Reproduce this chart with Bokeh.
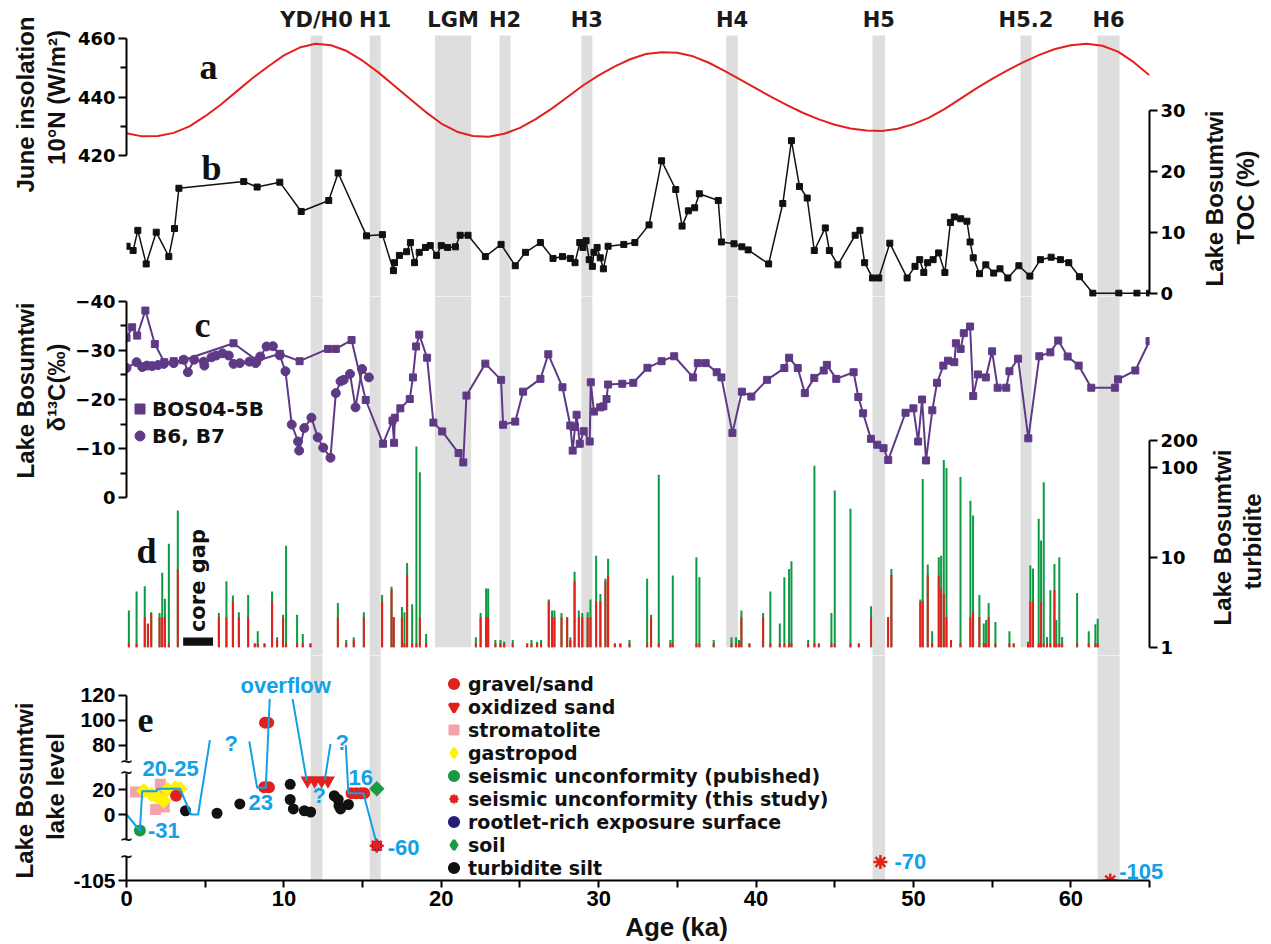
import numpy as np
from bokeh.plotting import figure
from bokeh.layouts import column
from bokeh.models import Plot, Range1d, LinearAxis, LogScale, FixedTicker, Legend, LegendItem
from bokeh.core.properties import value
from bokeh.embed import file_html
from bokeh.resources import INLINE

# ---------------------------------------------------------------- data
EVENT_NAMES = ["YD/H0", "H1", "LGM", "H2", "H3", "H4", "H5", "H5.2", "H6"]
EVENT_START = [11.7, 15.45, 19.6, 23.7, 28.9, 38.1, 47.4, 56.8, 61.7]
EVENT_END = [12.45, 16.15, 21.9, 24.4, 29.6, 38.85, 48.2, 57.5, 63.1]
EVENT_FULL = [True, True, False, False, False, False, True, False, True]

# (a) June insolation at 10N, W/m2
INSOL_AGE = list(range(0, 66))
INSOL = [427.7, 426.6, 426.7, 427.8, 430.0, 433.5, 437.5, 442.0, 446.5, 450.5,
         454.3, 457.0, 458.3, 457.8, 455.8, 452.5, 448.5, 444.0, 439.5, 435.0,
         431.0, 428.2, 426.7, 426.5, 427.5, 429.5, 432.5, 436.0, 440.0, 444.0,
         447.5, 450.5, 453.0, 454.8, 455.4, 455.2, 454.0, 451.8, 449.0, 446.0,
         443.0, 440.0, 437.2, 434.6, 432.4, 430.6, 429.3, 428.6, 428.4, 429.2,
         430.8, 433.0, 436.0, 439.5, 443.0, 446.3, 449.3, 452.0, 454.5, 456.5,
         457.8, 458.3, 457.6, 455.6, 452.0, 447.5]

# (b) Lake Bosumtwi TOC (%)
TOC_AGE = [0.04, 0.42, 0.72, 1.25, 1.89, 2.69, 3.05, 3.33, 7.45, 8.3, 9.74, 11.1, 12.85,
           13.45, 15.25, 16.26, 16.96, 17.03, 17.34, 17.8, 18.04, 18.3, 18.6, 19.0, 19.3,
           19.7, 20.0, 20.4, 20.9, 21.2, 21.7, 22.8, 23.8, 24.7, 25.35, 26.3, 27.1, 27.7,
           28.2, 28.5, 28.8, 29.0, 29.2, 29.4, 29.6, 29.7, 29.9, 30.1, 30.3, 30.6, 31.6,
           32.3, 33.2, 34.0, 34.9, 35.3, 35.7, 36.1, 36.4, 37.6, 37.8, 38.6, 39.1, 39.5,
           40.8, 41.7, 42.25, 42.76, 43.25, 43.7, 44.4, 44.66, 45.2, 46.3, 46.6, 46.9,
           47.4, 47.8, 48.5, 49.6, 50.1, 50.4, 50.66, 50.9, 51.25, 51.6, 52.0, 52.35,
           52.6, 53.0, 53.4, 53.6, 53.8, 54.2, 54.6, 55.1, 55.5, 56.0, 56.7, 57.4, 58.07,
           58.75, 59.34, 59.87, 60.55, 61.4, 63.05, 64.2, 65.0]
TOC = [7.7, 7.0, 10.3, 4.8, 10.0, 6.0, 10.6, 17.2, 18.3, 17.4, 18.2, 13.4, 15.2,
       19.7, 9.4, 9.6, 3.7, 5.0, 6.2, 6.8, 8.3, 5.0, 6.7, 7.5, 7.8,
       6.2, 7.8, 7.5, 7.6, 9.5, 9.5, 6.0, 8.0, 4.5, 6.7, 8.3, 5.7, 6.0,
       5.7, 5.0, 8.3, 7.5, 8.6, 5.5, 4.4, 6.7, 7.5, 5.8, 4.0, 7.7, 8.0,
       8.3, 11.2, 21.7, 17.0, 11.0, 13.5, 14.0, 16.3, 15.2, 8.4, 8.1, 7.6, 7.1,
       4.8, 14.7, 25.0, 17.5, 15.6, 7.0, 10.7, 7.0, 4.65, 9.5, 10.3, 5.0,
       2.5, 2.5, 8.2, 2.5, 4.4, 5.5, 3.4, 5.0, 5.5, 6.6, 3.4, 11.6,
       12.5, 12.2, 11.8, 8.4, 5.8, 3.2, 4.65, 3.3, 4.0, 2.5, 4.5, 2.8, 5.5,
       5.9, 5.5, 5.0, 2.7, 0.0, 0.0, 0.0, 0.0]

# (c) d13C, core BOS04-5B
BOS_AGE = [0.0, 0.36, 0.68, 1.2, 1.8, 2.4, 3.0, 3.6, 6.8, 8.3, 9.74, 11.0, 12.8, 13.3, 14.3,
           15.2, 16.3, 16.9, 17.0, 17.05, 17.4, 18.0, 18.2, 18.4, 18.6, 19.1, 19.5, 20.06,
           21.1, 21.4, 21.6, 22.8, 23.8, 23.93, 24.7, 25.2, 26.3, 26.8, 27.7, 28.2, 28.35,
           28.5, 28.6, 28.8, 29.05, 29.43, 29.5, 29.7, 30.1, 30.3, 30.5, 30.6, 31.5, 32.2,
           33.1, 34.0, 34.8, 36.0, 36.3, 36.8, 37.5, 37.8, 38.5, 39.1, 39.7, 40.7, 41.8,
           42.1, 42.65, 43.1, 43.7, 44.3, 44.5, 45.1, 46.2, 46.5, 46.8, 47.3, 47.7, 48.1,
           48.4, 49.5, 50.0, 50.3, 50.55, 50.8, 51.2, 51.5, 51.9, 52.2, 52.6, 52.7, 53.0,
           53.2, 53.6, 53.8, 54.1, 54.6, 55.0, 55.35, 55.9, 56.1, 56.65, 57.3, 58.0, 58.7,
           59.2, 59.8, 60.5, 61.3, 62.8, 63.0, 64.1, 65.0]
BOS_D13C = [-32.55, -34.7, -33.0, -38.1, -31.3, -27.6, -27.8, -28.0, -31.45, -27.9, -29.3,
            -27.8, -30.3, -30.3, -32.1, -19.9, -11.0, -15.7, -11.2, -16.3, -18.2, -20.1,
            -24.5, -30.8, -33.2, -28.5, -15.3, -13.5, -9.1, -7.2, -20.8, -27.3, -24.0,
            -14.85, -15.5, -21.6, -24.2, -29.2, -22.5, -14.7, -9.6, -14.4, -16.9, -11.0,
            -13.55, -11.45, -23.5, -17.55, -18.4, -18.6, -20.1, -23.05, -23.2, -23.4,
            -26.45, -27.8, -28.8, -24.5, -27.4, -27.4, -25.55, -24.5, -13.2, -21.6, -20.6,
            -24.0, -26.4, -28.5, -26.4, -21.3, -24.4, -25.9, -27.05, -24.2, -25.55, -20.5,
            -17.2, -12.0, -10.8, -10.1, -7.7, -17.3, -18.2, -11.45, -20.0, -7.6, -17.8,
            -23.4, -26.9, -27.9, -27.6, -31.45, -30.3, -33.5, -34.85, -20.7, -25.1, -24.5,
            -29.8, -22.4, -22.4, -25.75, -28.3, -12.1, -28.8, -29.6, -32.0, -28.75, -26.9,
            -22.4, -22.4, -24.1, -25.9, -31.9]

# (c) d13C, cores B6 and B7
B6_AGE = [0.0, 0.64, 1.0, 1.3, 1.63, 2.0, 2.37, 3.0, 3.64, 3.9, 4.3, 4.9, 4.95, 5.4, 5.7,
          6.1, 6.5, 6.8, 7.2, 7.8, 8.2, 8.5, 8.9, 9.3, 9.74, 10.1, 10.5, 10.9, 10.97, 11.3,
          11.75, 12.15, 12.5, 12.96, 13.3, 13.6, 13.8, 14.2, 14.55, 14.97, 15.4]
B6_D13C = [-26.4, -27.6, -26.6, -26.9, -26.8, -27.0, -27.25, -27.4, -28.1, -25.55, -28.1,
           -27.7, -26.9, -28.6, -28.95, -29.4, -28.95, -27.25, -27.4, -27.7, -27.4, -28.75,
           -30.8, -30.85, -29.0, -25.75, -14.9, -11.45, -9.6, -14.2, -16.3, -12.3, -10.2,
           -8.15, -21.3, -23.7, -24.0, -25.2, -18.4, -26.2, -24.5]

# (d) turbidite record: total (green) and red component
TURB_AGE = [0.15, 0.64, 1.16, 1.36, 1.57, 2.10, 2.27, 2.44, 2.69, 3.26, 5.87, 6.35, 6.76,
            7.14, 7.73, 8.15, 8.34, 8.77, 9.25, 9.57, 9.95, 10.14, 10.84, 11.2, 11.69,
            13.43, 13.96, 14.44, 15.08, 16.24, 16.84, 16.98, 17.5, 17.66, 17.83, 18.15,
            18.42, 18.64, 19.04, 22.2, 22.5, 22.85, 22.98, 23.44, 23.76, 24.0, 24.54,
            25.46, 25.73, 26.09, 26.34, 26.83, 27.04, 27.19, 27.64, 28.0, 28.2, 28.47,
            28.74, 28.96, 29.3, 29.48, 29.84, 30.11, 30.43, 30.6, 31.03, 31.38, 31.96,
            33.08, 33.33, 33.82, 34.56, 34.71, 36.21, 36.4, 37.31, 38.44, 38.73, 38.92,
            39.07, 39.58, 40.45, 40.91, 41.51, 41.8, 42.1, 42.25, 43.31, 43.71, 43.99,
            44.79, 45.0, 46.0, 46.53, 47.31, 48.39, 48.6, 50.44, 50.59, 50.91, 51.19,
            51.61, 51.76, 51.93, 52.1, 52.39, 52.99, 53.62, 53.79, 54.19, 54.47, 54.62,
            54.78, 55.21, 56.1, 56.37, 57.28, 57.43, 57.6, 57.96, 58.11, 58.28, 58.49,
            58.7, 58.96, 59.08, 59.27, 59.45, 60.4, 61.14, 61.56, 61.71]
TURB_TOTAL = [2.56, 4.15, 4.76, 1.83, 2.45, 2.4, 6.7, 3.45, 14.1, 33.0, 2.4, 5.4, 3.76,
              2.45, 3.8, 1.1, 1.5, 1.1, 4.15, 1.29, 2.3, 13.4, 2.3, 1.4, 1.1,
              3.1, 1.2, 1.29, 2.45, 3.8, 4.7, 2.15, 2.8, 2.45, 8.6, 3.0,
              170.0, 88.0, 1.4, 1.29, 2.4, 4.5, 4.5, 1.2, 1.2, 1.15, 1.2,
              1.1, 1.2, 1.15, 1.2, 3.4, 2.56, 2.56, 2.4, 2.15, 1.29, 6.9,
              2.56, 2.4, 2.45, 3.4, 10.4, 3.9, 5.75, 9.6, 1.1, 1.1, 1.2,
              5.75, 2.3, 82.6, 1.2, 6.25, 10.0, 6.0, 1.2, 1.29, 1.29, 1.2,
              2.56, 1.1, 2.4, 4.15, 1.83, 6.0, 7.4, 9.0, 1.2, 104.0, 1.1,
              2.4, 55.0, 34.5, 1.1, 2.86, 2.15, 7.4, 3.4, 74.0, 8.3, 1.5,
              10.0, 10.4, 120.0, 98.0, 1.2, 78.0, 42.5, 29.0, 3.8, 1.83, 2.0,
              3.1, 1.9, 1.5, 1.1, 1.15, 8.1, 7.5, 26.8, 15.3, 68.0, 1.3,
              4.3, 8.4, 2.0, 10.0, 1.3, 4.0, 1.5, 1.8, 2.07]
TURB_RED = [1.1, 1.1, 2.15, 1.8, 2.4, 2.15, 2.15, 2.15, 1.1, 7.4, 2.15, 2.15, 3.25,
            2.15, 2.15, 1.1, 1.1, 1.1, 3.25, 1.2, 2.15, 1.1, 1.1, 1.1, 1.1,
            2.15, 1.1, 1.2, 2.15, 3.25, 4.4, 2.15, 2.15, 1.1, 6.4, 1.1,
            1.1, 2.15, 1.1, 1.1, 2.15, 2.15, 2.15, 1.1, 1.1, 1.1, 1.1,
            1.1, 1.1, 1.1, 1.1, 3.25, 2.15, 2.15, 2.15, 2.15, 1.2, 5.4,
            2.15, 2.15, 2.15, 2.15, 3.25, 3.25, 5.4, 6.25, 1.1, 1.1, 1.1,
            1.1, 2.15, 1.1, 1.1, 1.1, 1.1, 1.1, 1.1, 1.1, 1.1, 1.1,
            2.15, 1.1, 2.15, 1.1, 1.1, 1.1, 1.1, 1.1, 1.1, 1.1, 1.1,
            1.1, 1.1, 1.1, 1.1, 2.15, 2.15, 6.35, 3.25, 3.25, 6.35, 1.1,
            6.25, 4.5, 3.9, 2.15, 1.2, 1.1, 2.15, 2.5, 2.15, 1.1, 1.1,
            2.15, 1.1, 1.1, 1.1, 1.1, 3.2, 3.2, 1.1, 3.2, 1.1, 1.1,
            1.1, 4.3, 1.1, 1.1, 1.1, 1.1, 1.1, 1.1, 1.1]
TURB_BASE = 1.0
CORE_GAP = (3.6, 5.5)

# (e) lake-level indicators (age in ka, level in m)
GRAVEL_AGE = [3.15, 8.75, 9.05, 8.8, 9.0, 14.3, 14.6, 14.9, 15.1]
GRAVEL_LEVEL = [15, 23, 23, 98, 98, 17, 17, 17, 17]
OXSAND_AGE = [11.5, 11.95, 12.4, 12.8]
OXSAND_LEVEL = [32, 32, 32, 32]
STROM_AGE = [0.57, 2.15, 2.2, 1.85, 2.4]
STROM_LEVEL = [18, 27, 20, 4, 6]
GASTRO_AGE = [1.1, 1.6, 1.95, 2.35, 2.6, 3.1, 3.4]
GASTRO_LEVEL = [19, 16, 14, 11, 20, 22, 21]
SEIS_PUB_AGE = [0.85]
SEIS_PUB_LEVEL = [-31]
SEIS_NEW_AGE = [15.9, 47.9, 62.5]
SEIS_NEW_LEVEL = [-60, -70, -105]
ROOTLET_AGE = [15.9]
ROOTLET_LEVEL = [-60]
SOIL_AGE = [15.9]
SOIL_LEVEL = [21]
SILT_AGE = [3.75, 5.75, 7.2, 10.4, 10.4, 10.6, 11.3, 11.7, 13.2, 13.45, 13.5, 13.6, 14.1]
SILT_LEVEL = [3, 1, 8.5, 27, 12, 4.5, 3, 2, 15, 12, 7, 4.5, 8]

# reconstructed lake-level path segments
LAKE_PATH_AGE = [[0.0, 0.85, 1.0, 1.9, 2.0, 3.4, 4.1, 4.55, 5.3],
                 [7.8, 8.3, 8.85, 9.1],
                 [10.55, 11.45],
                 [12.6, 12.96],
                 [13.93, 14.1, 15.05, 15.93]]
LAKE_PATH_LEVEL = [[0, -31, 18.6, 18.6, 21, 21, 0, 0, 84],
                   [83, 22.5, 22.5, 117],
                   [117, 32],
                   [33, 81],
                   [80, 17, 17, -60]]

NOTE_TEXT = ["20-25", "23", "16", "overflow", "?", "?", "?"]
NOTE_AGE = [1.02, 7.75, 14.1, 7.24, 6.23, 11.82, 13.28]
NOTE_LEVEL = [48, 9.8, 36.6, 127.7, 81.3, 15.2, 82.1]

# broken lake-level axis: level (m) -> drawing position
LEVEL_KNOTS = [-105, -70, -60, -31, 0, 20, 80, 160]
POS_KNOTS = [-52.8, -38.0, -25.0, -12.8, 0.0, 20.0, 55.5, 135.5]
LEVEL_TICKS = [120, 100, 80, 20, 0, -105]


def lake_pos(levels):
    return [round(float(v), 3) for v in np.interp(levels, LEVEL_KNOTS, POS_KNOTS)]


# ---------------------------------------------------------------- styling
SANS = "Liberation Sans"
WIDE = "DejaVu Sans"
SERIF = "Liberation Serif"
RED = "#E3211C"
PURPLE = "#5E3A86"
GREEN = "#0E9A43"
BAND = "#DEDEDE"
BLUE = "#12A0E6"
PINK = "#F2A4AC"
YELLOW = "#FFF200"
LEAF = "#1A9A45"
NAVY = "#211D78"
INK = "#111111"
W, H = 1271, 944
FRAME_LEFT, FRAME_RIGHT = 126, 122
OVERLAP = 20
UP = np.pi / 2
TILT = np.pi / 4
HAS_FRAME_ALIGN = "frame_align" in Plot.properties()
x_range = Range1d(0, 65)


def panel(frame_h, y_range, top=0, bottom=OVERLAP, xr=None, right=FRAME_RIGHT, shift=0):
    p = figure(width=W, height=top + frame_h + bottom, x_range=xr or x_range,
               y_range=y_range, x_axis_location=None, y_axis_location=None, tools="",
               toolbar_location=None, output_backend="svg",
               min_border_left=FRAME_LEFT, min_border_right=right,
               min_border_top=top, min_border_bottom=bottom,
               margin=(-shift, 0, 0, 0))
    p.outline_line_color = None
    p.grid.grid_line_color = None
    p.background_fill_color = None
    p.border_fill_color = None
    if HAS_FRAME_ALIGN:
        p.frame_align = False
    return p


def style_axis(ax, font=WIDE, size="18px", tick=8, minor=6):
    ax.axis_line_width = 2
    ax.axis_line_color = "black"
    ax.major_tick_line_width = 2
    ax.minor_tick_line_width = 2
    ax.major_tick_line_color = "black"
    ax.minor_tick_line_color = "black"
    ax.major_tick_in = 0
    ax.major_tick_out = tick
    ax.minor_tick_in = 0
    ax.minor_tick_out = minor
    ax.major_label_text_font = font
    ax.major_label_text_font_size = size
    ax.major_label_text_font_style = "bold"
    ax.major_label_text_color = "black"
    ax.major_label_standoff = 3


ev_center = [(a + b) / 2 for a, b in zip(EVENT_START, EVENT_END)]
full_start = [s for s, f in zip(EVENT_START, EVENT_FULL) if f]
full_end = [e for e, f in zip(EVENT_END, EVENT_FULL) if f]

# ---------------------------------------------------------------- panel a + b
f1 = panel(296, Range1d(371.8, 473.1))
f1.extra_y_ranges = {"toc": Range1d(-0.54, 47.98)}
f1.quad(left=EVENT_START, right=EVENT_END, bottom=371.8, top=461.1,
        fill_color=BAND, line_color=None)
f1.text(x=ev_center, y=466.3, text=EVENT_NAMES, text_align="center",
        text_baseline="middle", text_font=value(WIDE), text_font_style="bold",
        text_font_size="21px", text_color="#1a1a1a")
f1.line(INSOL_AGE, INSOL, line_color=RED, line_width=2)
f1.line(TOC_AGE, TOC, y_range_name="toc", line_color=INK, line_width=1.5)
f1.scatter(TOC_AGE, TOC, y_range_name="toc", marker="square", size=6,
           fill_color=INK, line_color=INK)

ax_ins = LinearAxis(bounds=(420, 460),
                    ticker=FixedTicker(ticks=[420, 440, 460], minor_ticks=[430, 450]))
style_axis(ax_ins)
f1.add_layout(ax_ins, "left")
ax_toc = LinearAxis(y_range_name="toc", bounds=(0, 30),
                    ticker=FixedTicker(ticks=[0, 10, 20, 30], minor_ticks=[]))
style_axis(ax_toc)
f1.add_layout(ax_toc, "right")

# ---------------------------------------------------------------- panel c + d
f2 = panel(359, Range1d(start=32.09, end=-40.96), top=OVERLAP, shift=2 * OVERLAP)
f2.extra_y_ranges = {"turb": Range1d(0.809, 7880)}
f2.extra_y_scales = {"turb": LogScale()}
band_bottom = [0.809 if f else TURB_BASE for f in EVENT_FULL]
f2.quad(left=EVENT_START, right=EVENT_END, bottom=band_bottom, top=7880,
        y_range_name="turb", fill_color=BAND, line_color=None)

n_turb = len(TURB_AGE)
f2.segment(x0=TURB_AGE, y0=[TURB_BASE] * n_turb, x1=TURB_AGE, y1=TURB_TOTAL,
           y_range_name="turb", line_color=GREEN, line_width=2)
f2.segment(x0=TURB_AGE, y0=[TURB_BASE] * n_turb, x1=TURB_AGE, y1=TURB_RED,
           y_range_name="turb", line_color=RED, line_width=2)
f2.quad(left=[CORE_GAP[0]], right=[CORE_GAP[1]], bottom=[1.04], top=[1.28],
        y_range_name="turb", fill_color=INK, line_color=None)
f2.text(x=[sum(CORE_GAP) / 2], y=[5.5], text=["core gap"], y_range_name="turb",
        angle=UP, text_align="center", text_baseline="middle",
        text_font=value(WIDE), text_font_style="bold", text_font_size="21px",
        text_color=INK)

f2.line(BOS_AGE, BOS_D13C, line_color=PURPLE, line_width=2)
r_bos = f2.scatter(BOS_AGE, BOS_D13C, marker="square", size=7,
                   fill_color=PURPLE, line_color=PURPLE)
f2.line(B6_AGE, B6_D13C, line_color=PURPLE, line_width=2)
r_b6 = f2.scatter(B6_AGE, B6_D13C, marker="circle", size=9,
                  fill_color=PURPLE, line_color=PURPLE)

ax_c = LinearAxis(bounds=(-40, 0),
                  ticker=FixedTicker(ticks=[-40, -30, -20, -10, 0],
                                     minor_ticks=[-35, -25, -15, -5]))
style_axis(ax_c)
f2.add_layout(ax_c, "left")
ax_d = LinearAxis(y_range_name="turb", bounds=(1, 200),
                  ticker=FixedTicker(ticks=[1, 10, 100, 200], minor_ticks=[]))
style_axis(ax_d)
f2.add_layout(ax_d, "right")

leg_c = Legend(items=[LegendItem(label="BOS04-5B", renderers=[r_bos]),
                     LegendItem(label="B6, B7", renderers=[r_b6])],
               location=(1, 207), glyph_width=25, glyph_height=25, label_height=25,
               spacing=2, padding=0, margin=0, label_standoff=0,
               border_line_color=None, background_fill_alpha=0,
               label_text_font=WIDE, label_text_font_style="bold",
               label_text_font_size="20px", label_text_color=INK)
f2.add_layout(leg_c)

# ---------------------------------------------------------------- panel e
# this frame runs a little past 65 ka so the value labels at the right edge fit
x_range_e = Range1d(0, 66.33)
f3 = panel(225, Range1d(-52.8, 127.2), top=OVERLAP, bottom=64, xr=x_range_e,
           right=101, shift=2 * OVERLAP)
f3.quad(left=full_start, right=full_end, bottom=-52.8, top=127.2,
        fill_color=BAND, line_color=None)

f3.scatter(STROM_AGE, lake_pos(STROM_LEVEL), marker="square", size=11,
           fill_color=PINK, line_color=None)
f3.scatter(GASTRO_AGE, lake_pos(GASTRO_LEVEL), marker="square", size=11,
           angle=TILT, fill_color=YELLOW, line_color=None)
f3.scatter(GRAVEL_AGE, lake_pos(GRAVEL_LEVEL), marker="circle", size=12,
           fill_color=RED, line_color=None)
f3.scatter(OXSAND_AGE, lake_pos(OXSAND_LEVEL), marker="inverted_triangle",
           size=14, fill_color=RED, line_color=None)
f3.scatter(SILT_AGE, lake_pos(SILT_LEVEL), marker="circle", size=11,
           fill_color=INK, line_color=None)
f3.scatter(SEIS_PUB_AGE, lake_pos(SEIS_PUB_LEVEL), marker="circle", size=12,
           fill_color=LEAF, line_color=None)
f3.scatter(SOIL_AGE, lake_pos(SOIL_LEVEL), marker="square", size=11,
           angle=TILT, fill_color=LEAF, line_color=None)
f3.scatter(ROOTLET_AGE, lake_pos(ROOTLET_LEVEL), marker="circle", size=11,
           fill_color=NAVY, line_color=None)

f3.multi_line(xs=LAKE_PATH_AGE, ys=[lake_pos(lv) for lv in LAKE_PATH_LEVEL],
              line_color=BLUE, line_width=2)

f3.scatter(SEIS_NEW_AGE, lake_pos(SEIS_NEW_LEVEL), marker="asterisk", size=14,
           line_color=RED, line_width=2.5)

f3.text(x=NOTE_AGE, y=lake_pos(NOTE_LEVEL), text=NOTE_TEXT, text_align="left",
        text_baseline="middle", text_font=value(SANS), text_font_style="bold",
        text_font_size="22px", text_color=BLUE)
seis_age = SEIS_PUB_AGE + SEIS_NEW_AGE
seis_level = SEIS_PUB_LEVEL + SEIS_NEW_LEVEL
f3.text(x=seis_age, y=lake_pos(seis_level), text=[f"{v:g}" for v in seis_level],
        x_offset=[8, 11, 14, 9], y_offset=[0, 2, -1, -9], text_align="left",
        text_baseline="middle", text_font=value(SANS), text_font_style="bold",
        text_font_size="22px", text_color=BLUE)

tick_pos = lake_pos(LEVEL_TICKS)
ax_e = LinearAxis(bounds=(tick_pos[-1], tick_pos[0]),
                  ticker=FixedTicker(ticks=tick_pos, minor_ticks=[]))
ax_e.major_label_overrides = {p_: str(v) for p_, v in zip(tick_pos, LEVEL_TICKS)}
style_axis(ax_e, font=SANS, size="21px")
f3.add_layout(ax_e, "left")

ax_x = LinearAxis(bounds=(0, 65),
                  ticker=FixedTicker(ticks=list(range(0, 61, 10)),
                                     minor_ticks=list(range(5, 66, 10))))
style_axis(ax_x, font=SANS, size="22px", tick=7, minor=7)
f3.add_layout(ax_x, "below")

# legend swatches: single undrawn (NaN) points that only carry the legend styling,
# drawn a touch heavier than the data marks
LEGEND_E = [("gravel/sand", "circle", RED, RED, 3),
            ("oxidized sand", "inverted_triangle", RED, RED, 3),
            ("stromatolite", "square", PINK, PINK, 2),
            ("gastropod", "diamond", YELLOW, YELLOW, 3),
            ("seismic unconformity (pubished)", "circle", LEAF, LEAF, 3),
            ("seismic unconformity (this study)", "asterisk", None, RED, 2.5),
            ("rootlet-rich exposure surface", "circle", NAVY, NAVY, 3),
            ("soil", "diamond", LEAF, LEAF, 3),
            ("turbidite silt", "circle", INK, INK, 3)]
items_e = []
for label, marker, fill, line, lw in LEGEND_E:
    swatch = f3.scatter(x=[float("nan")], y=[float("nan")], marker=marker, size=10,
                        fill_color=fill, line_color=line, line_width=lw)
    items_e.append(LegendItem(label=label, renderers=[swatch]))

leg_e = Legend(items=items_e,
               location=(316, 1), glyph_width=23, glyph_height=23, label_height=23,
               spacing=0, padding=0, margin=0, label_standoff=3,
               border_line_color=None, background_fill_alpha=0,
               label_text_font=WIDE, label_text_font_style="bold",
               label_text_font_size="19px", label_text_line_height=1.0,
               label_text_color=INK)
f3.add_layout(leg_e)

# ---------------------------------------------------------------- titles layer
# a transparent full-page layer (pixel coordinates, y downward) for the axis
# titles, panel letters and axis-break marks that sit outside the data frames
ov = figure(width=W, height=H, x_range=Range1d(0, W), y_range=Range1d(H, 0),
            x_axis_location=None, y_axis_location=None, tools="",
            toolbar_location=None, output_backend="svg", min_border=0,
            margin=(-H, 0, 0, 0))
ov.outline_line_color = None
ov.grid.grid_line_color = None
ov.background_fill_color = None
ov.border_fill_color = None
if HAS_FRAME_ALIGN:
    ov.frame_align = False

TITLE_TEXT = ["June insolation", "10°N (W/m²)", "Lake Bosumtwi", "TOC (%)",
              "Lake Bosumtwi", "δ¹³C(‰)", "Lake Bosumtwi", "turbidite",
              "Lake Bosumtwi", "lake level"]
TITLE_X = [25, 56, 1214, 1245, 25, 56, 1222, 1252, 24, 55]
TITLE_Y = [104, 97, 198, 197, 390, 387, 537, 541, 790, 786]
ov.text(x=TITLE_X, y=TITLE_Y, text=TITLE_TEXT, angle=UP, text_align="center",
        text_baseline="middle", text_font=value(SANS), text_font_style="bold",
        text_font_size="24px", text_color=INK)
ov.text(x=[676], y=[926], text=["Age (ka)"], text_align="center",
        text_baseline="middle", text_font=value(SANS), text_font_style="bold",
        text_font_size="26px", text_color=INK)
ov.text(x=[208, 211, 202, 146, 145], y=[66, 167, 324, 550, 719],
        text=["a", "b", "c", "d", "e"], text_align="center", text_baseline="middle",
        text_font=value(SERIF), text_font_style="bold", text_font_size="36px",
        text_color=INK)
# gaps and squiggles where the lake-level axis is broken
ov.quad(left=[119, 119], right=[134, 134], top=[760, 839], bottom=[773, 856],
        fill_color="white", line_color=None)
ov.text(x=[126, 126, 126, 126], y=[761, 772, 839, 856], text=["~", "~", "~", "~"],
        text_align="center", text_baseline="middle", text_font=value(WIDE),
        text_font_style="bold", text_font_size="16px", text_color=INK)

page = column(f1, f2, f3, ov, spacing=0)
open("out.html", "w").write(file_html(page, INLINE))
